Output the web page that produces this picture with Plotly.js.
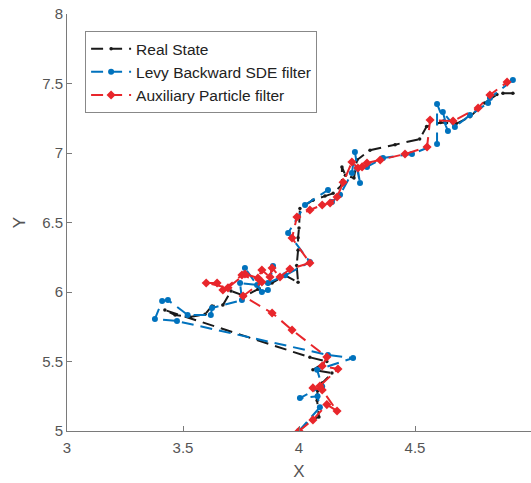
<!DOCTYPE html>
<html>
<head>
<meta charset="utf-8">
<script src="https://cdn.plot.ly/plotly-3.0.1.min.js"></script>
<style>html,body{margin:0;padding:0;background:#fff;}#chart{width:531px;height:483px;}</style>
</head>
<body>
<div id="chart"></div>
<script>
// Real state trajectory
const realX = [4.00,4.056,4.086,4.078,4.08,4.10,4.142,4.06,4.12,4.047,
  3.422,3.466,3.53,3.595,3.625,3.672,3.707,3.767,3.823,3.884,3.94,3.996,3.99,3.996,3.996,4.0,4.004,
  4.06,4.112,4.147,4.185,4.185,4.20,4.237,4.25,4.306,4.414,4.52,4.55,4.61,4.677,4.737,4.80,4.853,4.879,4.922];
const realY = [5.00,5.086,5.10,5.22,5.29,5.345,5.417,5.44,5.50,5.53,
  5.87,5.835,5.82,5.84,5.90,5.906,6.007,5.971,6.02,6.065,6.12,6.07,6.19,6.30,6.39,6.46,6.60,
  6.66,6.69,6.71,6.77,6.90,6.84,6.82,6.95,7.02,7.06,7.10,7.19,7.22,7.21,7.26,7.36,7.42,7.43,7.43];

// Levy Backward SDE filter estimate
const levyX = [4.00,4.09,4.08,4.004,4.10,4.078,4.233,4.125,
  3.474,3.379,3.41,3.435,3.52,3.62,3.625,
  3.754,3.746,3.819,3.767,3.84,3.866,3.888,3.866,3.94,4.047,3.953,4.026,
  4.125,4.142,4.177,4.228,4.241,4.263,4.25,4.293,4.362,4.487,4.595,4.595,4.642,4.62,4.672,4.737,4.815,4.823,4.922];
const levyY = [5.00,5.17,5.25,5.237,5.32,5.44,5.525,5.547,
  5.791,5.806,5.935,5.942,5.835,5.835,5.885,
  5.942,6.065,6.05,6.173,6.0,6.014,6.187,6.065,6.12,6.216,6.424,6.626,
  6.734,6.647,6.70,6.856,7.007,6.784,6.89,6.90,6.964,6.993,7.065,7.353,7.158,7.295,7.187,7.273,7.36,7.396,7.525];

// Auxiliary Particle filter estimate
const apfX = [4.00,4.06,4.12,4.164,4.10,4.06,4.09,4.168,4.10,4.12,
  3.97,3.884,3.759,3.84,3.754,3.672,3.647,3.60,3.694,3.767,3.823,3.84,3.875,3.884,3.918,3.961,4.047,
  3.97,3.991,4.047,4.10,4.134,4.164,4.19,4.228,4.254,4.272,4.293,4.35,4.457,4.552,4.565,4.664,4.772,4.823,4.897];
const apfY = [5.00,5.08,5.19,5.144,5.295,5.31,5.324,5.446,5.468,5.532,
  5.727,5.849,5.971,6.072,6.122,6.014,6.065,6.065,6.03,6.13,6.10,6.158,6.108,6.173,6.108,6.165,6.209,
  6.388,6.54,6.59,6.626,6.64,6.683,6.79,6.935,6.892,6.90,6.928,6.95,6.993,7.043,7.237,7.23,7.324,7.417,7.51];

const seriesNames = ['Real State', 'Levy Backward SDE filter', 'Auxiliary Particle filter'];
const xTicks = [3, 3.5, 4, 4.5, 5];
const yTicks = [5, 5.5, 6, 6.5, 7, 7.5, 8];

const dashStyle = '12px,7px';
const traces = [
  {x: realX, y: realY, name: seriesNames[0], type: 'scatter', mode: 'lines+markers',
   line: {color: '#1a1a1a', width: 2, dash: dashStyle},
   marker: {color: '#1a1a1a', size: 3.5, symbol: 'circle'}},
  {x: levyX, y: levyY, name: seriesNames[1], type: 'scatter', mode: 'lines+markers',
   line: {color: '#0072BD', width: 2, dash: dashStyle},
   marker: {color: '#0072BD', size: 6, symbol: 'circle'}},
  {x: apfX, y: apfY, name: seriesNames[2], type: 'scatter', mode: 'lines+markers',
   line: {color: '#E8262B', width: 2, dash: dashStyle},
   marker: {color: '#E8262B', size: 7, symbol: 'diamond'}}
];

const axisCommon = {
  showgrid: false, zeroline: false, showline: true, linecolor: '#7a7a7a', linewidth: 1,
  ticks: 'inside', ticklen: 5, tickcolor: '#7a7a7a', mirror: false,
  tickfont: {family: 'Liberation Sans, Arial, sans-serif', size: 15, color: '#555'}
};

const layout = {
  width: 531, height: 483,
  margin: {l: 67, r: 0, t: 14, b: 52},
  paper_bgcolor: '#fff', plot_bgcolor: '#fff',
  font: {family: 'Liberation Sans, Arial, sans-serif', color: '#333'},
  showlegend: true,
  legend: {x: 0.039, y: 0.959, xanchor: 'left', yanchor: 'top',
    bgcolor: '#fff', bordercolor: '#888', borderwidth: 1,
    font: {size: 15.5, color: '#222'}, tracegroupgap: 0, itemwidth: 40},
  xaxis: Object.assign({}, axisCommon, {range: [3, 5], tickvals: xTicks, ticktext: xTicks.map(String),
    ticklabelstandoff: 3,
    title: {text: 'X', font: {size: 17, color: '#555'}, standoff: 10}}),
  yaxis: Object.assign({}, axisCommon, {range: [5, 8], tickvals: yTicks, ticktext: yTicks.map(String),
    title: {text: 'Y', font: {size: 17, color: '#555'}, standoff: 12}})
};

Plotly.newPlot('chart', traces, layout, {displayModeBar: false, staticPlot: true});
</script>
</body>
</html>
